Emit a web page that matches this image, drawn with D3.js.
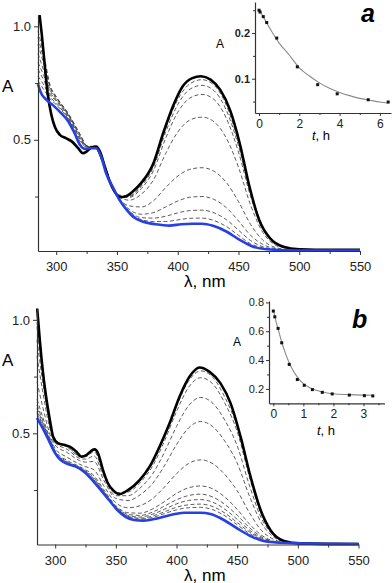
<!DOCTYPE html>
<html>
<head>
<meta charset="utf-8">
<script src="https://cdn.jsdelivr.net/npm/d3@7"></script>
<style>
    body { margin: 0; background: #fff; }
    svg { display: block; font-family: Arial, "Liberation Sans", sans-serif; }
</style>
</head>
<body>
<div id="chart"></div>
<script>
// wavelength grid shared by the dashed (intermediate) spectra
var gridNm = [285, 290, 295, 300, 310, 320, 325, 332, 340, 350, 360, 370, 380, 390,
    400, 410, 420, 430, 440, 450, 460, 470, 480, 490, 500, 550];

// panel a: start (black) and final (blue) spectra
var blackNmA = [285, 286.5, 288, 290, 293, 296, 299, 303, 308, 313, 318, 322, 325, 329, 333, 336,
    340, 344, 348, 352.5, 357, 363, 370, 380, 388, 396, 404, 412, 419, 427, 435, 443, 451, 459,
    467, 476, 487, 500, 525, 550];
var blackAbsA = [1.1, 1.04, 0.97, 0.86, 0.70, 0.61, 0.555, 0.522, 0.507, 0.492, 0.463, 0.441,
    0.448, 0.466, 0.47, 0.448, 0.382, 0.316, 0.272, 0.247, 0.25, 0.272, 0.31, 0.397, 0.529, 0.647,
    0.735, 0.772, 0.78, 0.765, 0.72, 0.632, 0.485, 0.294, 0.147, 0.066, 0.029, 0.018, 0.015, 0.015];
var blueNmA = [285, 287, 292, 297, 304, 310, 315, 319.5, 323.5, 329, 333, 337, 341, 347, 352, 358,
    363, 371, 382, 393, 403, 412, 420, 429, 440, 451, 462, 473, 500, 550];
var blueAbsA = [0.745, 0.712, 0.676, 0.654, 0.618, 0.581, 0.53, 0.478, 0.46, 0.463, 0.463, 0.426,
    0.353, 0.287, 0.235, 0.191, 0.162, 0.14, 0.128, 0.122, 0.128, 0.13, 0.13, 0.121, 0.096, 0.059,
    0.029, 0.018, 0.012, 0.012];

// panel a: intermediate spectra on gridNm
var dashA1 = [0.98, 0.87, 0.74, 0.69, 0.615, 0.52, 0.475, 0.468, 0.385, 0.258, 0.253, 0.301, 0.391, 0.55, 0.677, 0.747, 0.765, 0.74, 0.652, 0.49, 0.274, 0.118, 0.044, 0.024, 0.018, 0.015];
var dashA2 = [0.95, 0.85, 0.735, 0.69, 0.615, 0.52, 0.474, 0.467, 0.384, 0.258, 0.25, 0.295, 0.38, 0.533, 0.655, 0.723, 0.74, 0.716, 0.63, 0.473, 0.265, 0.114, 0.043, 0.023, 0.018, 0.015];
var dashA3 = [0.92, 0.83, 0.73, 0.685, 0.61, 0.515, 0.473, 0.466, 0.382, 0.257, 0.246, 0.285, 0.364, 0.506, 0.621, 0.684, 0.70, 0.677, 0.595, 0.446, 0.25, 0.108, 0.041, 0.023, 0.017, 0.015];
var dashA4 = [0.88, 0.80, 0.72, 0.68, 0.61, 0.51, 0.472, 0.466, 0.38, 0.257, 0.234, 0.26, 0.323, 0.439, 0.534, 0.587, 0.60, 0.579, 0.507, 0.379, 0.212, 0.092, 0.037, 0.021, 0.016, 0.014];
var dashA5 = [0.84, 0.78, 0.71, 0.675, 0.605, 0.505, 0.471, 0.465, 0.377, 0.256, 0.209, 0.204, 0.231, 0.289, 0.34, 0.37, 0.377, 0.361, 0.312, 0.228, 0.127, 0.058, 0.026, 0.017, 0.014, 0.013];
var dashA6 = [0.81, 0.76, 0.70, 0.67, 0.60, 0.50, 0.47, 0.465, 0.375, 0.256, 0.194, 0.172, 0.179, 0.204, 0.23, 0.247, 0.25, 0.237, 0.201, 0.143, 0.079, 0.039, 0.021, 0.015, 0.013, 0.012];
var dashA7 = [0.78, 0.74, 0.69, 0.66, 0.595, 0.495, 0.469, 0.464, 0.373, 0.255, 0.187, 0.157, 0.155, 0.163, 0.178, 0.188, 0.19, 0.178, 0.148, 0.102, 0.056, 0.029, 0.018, 0.014, 0.012, 0.012];
var dashA8 = [0.76, 0.72, 0.68, 0.655, 0.59, 0.49, 0.468, 0.464, 0.372, 0.255, 0.183, 0.148, 0.14, 0.14, 0.147, 0.154, 0.155, 0.144, 0.118, 0.079, 0.042, 0.024, 0.016, 0.013, 0.012, 0.012];

// panel b: start (black) and final (blue) spectra
var blackNmB = [285, 287.3, 290, 292.9, 295.6, 298.3, 302.4, 308, 312, 317.5, 321.6, 325.7, 329.8,
    332.6, 335.3, 339.4, 343.5, 347.6, 353.1, 360, 369.6, 377.8, 386, 394.3, 402.5, 410.8, 419, 427,
    436.3, 444.6, 452.8, 461, 469.3, 477.5, 488.5, 502, 550];
var blackAbsB = [1.06, 0.912, 0.765, 0.647, 0.559, 0.485, 0.456, 0.448, 0.441, 0.419, 0.397, 0.404,
    0.423, 0.429, 0.412, 0.338, 0.279, 0.25, 0.232, 0.25, 0.294, 0.353, 0.441, 0.544, 0.661, 0.75,
    0.79, 0.772, 0.72, 0.632, 0.485, 0.309, 0.162, 0.073, 0.026, 0.015, 0.012];
var blueNmB = [285, 289, 294.6, 300, 304.5, 310, 317, 323.7, 330.6, 337.5, 344.3, 351.2, 358, 365,
    373, 384, 395, 406, 420, 428, 439, 450, 461, 475, 500, 550];
var blueAbsB = [0.568, 0.529, 0.47, 0.412, 0.382, 0.365, 0.353, 0.331, 0.294, 0.25, 0.206, 0.162,
    0.132, 0.118, 0.115, 0.125, 0.14, 0.15, 0.15, 0.144, 0.118, 0.081, 0.047, 0.022, 0.015, 0.012];

// panel b: intermediate spectra on gridNm
var dashB1 = [0.99, 0.759, 0.573, 0.469, 0.443, 0.401, 0.4, 0.426, 0.328, 0.238, 0.247, 0.292, 0.364, 0.482, 0.619, 0.731, 0.775, 0.746, 0.657, 0.529, 0.324, 0.147, 0.057, 0.024, 0.016, 0.012];
var dashB2 = [0.97, 0.748, 0.567, 0.466, 0.439, 0.398, 0.397, 0.419, 0.323, 0.235, 0.241, 0.283, 0.353, 0.465, 0.596, 0.703, 0.745, 0.717, 0.631, 0.508, 0.31, 0.141, 0.055, 0.023, 0.016, 0.012];
var dashB3 = [0.911, 0.715, 0.553, 0.458, 0.429, 0.39, 0.386, 0.4, 0.31, 0.225, 0.225, 0.259, 0.319, 0.416, 0.53, 0.622, 0.658, 0.632, 0.556, 0.445, 0.272, 0.125, 0.05, 0.022, 0.016, 0.012];
var dashB4 = [0.84, 0.675, 0.535, 0.448, 0.415, 0.38, 0.373, 0.376, 0.294, 0.213, 0.204, 0.229, 0.277, 0.357, 0.45, 0.524, 0.552, 0.529, 0.464, 0.369, 0.225, 0.105, 0.043, 0.021, 0.015, 0.012];
var dashB5 = [0.727, 0.61, 0.506, 0.433, 0.394, 0.364, 0.353, 0.339, 0.269, 0.194, 0.172, 0.181, 0.211, 0.263, 0.322, 0.367, 0.383, 0.366, 0.317, 0.247, 0.151, 0.072, 0.033, 0.018, 0.015, 0.012];
var dashB6 = [0.65, 0.567, 0.487, 0.423, 0.38, 0.354, 0.339, 0.313, 0.252, 0.181, 0.15, 0.148, 0.166, 0.199, 0.235, 0.26, 0.268, 0.255, 0.218, 0.165, 0.101, 0.051, 0.025, 0.017, 0.014, 0.012];
var dashB7 = [0.625, 0.553, 0.481, 0.419, 0.375, 0.351, 0.335, 0.305, 0.246, 0.177, 0.143, 0.138, 0.152, 0.179, 0.207, 0.226, 0.232, 0.219, 0.186, 0.139, 0.085, 0.044, 0.023, 0.016, 0.014, 0.012];
var dashB8 = [0.609, 0.544, 0.477, 0.417, 0.372, 0.348, 0.332, 0.3, 0.243, 0.174, 0.138, 0.131, 0.143, 0.165, 0.189, 0.204, 0.208, 0.196, 0.165, 0.121, 0.074, 0.039, 0.022, 0.016, 0.014, 0.012];
var dashB9 = [0.595, 0.536, 0.473, 0.415, 0.37, 0.346, 0.33, 0.295, 0.24, 0.172, 0.134, 0.126, 0.135, 0.154, 0.174, 0.185, 0.188, 0.177, 0.148, 0.107, 0.066, 0.035, 0.02, 0.016, 0.014, 0.012];
var dashB10 = [0.586, 0.531, 0.471, 0.414, 0.368, 0.345, 0.328, 0.292, 0.238, 0.171, 0.132, 0.122, 0.129, 0.146, 0.163, 0.172, 0.174, 0.163, 0.136, 0.097, 0.059, 0.033, 0.019, 0.015, 0.014, 0.012];

// insets: kinetics of A vs time
var timeA = [0, 0.05, 0.21, 0.38, 0.88, 1.9, 2.91, 3.88, 5.42, 6.41];
var kinA = [0.25, 0.246, 0.236, 0.223, 0.189, 0.126, 0.087, 0.067, 0.054, 0.049];
var fitTimeA = [0, 0.5, 1, 1.5, 2, 2.5, 3, 3.5, 4, 4.5, 5, 5.5, 6, 6.4];
var fitKinA = [0.252, 0.213, 0.178, 0.152, 0.124, 0.106, 0.091, 0.079, 0.07, 0.063, 0.057, 0.053, 0.049, 0.047];

var timeB = [0, 0.05, 0.16, 0.28, 0.53, 0.8, 1.03, 1.3, 1.63, 1.96, 2.53, 3.03, 3.31];
var kinB = [0.74, 0.70, 0.62, 0.52, 0.37, 0.265, 0.225, 0.195, 0.176, 0.165, 0.157, 0.153, 0.151];
var fitTimeB = [0, 0.1, 0.2, 0.3, 0.4, 0.5, 0.6, 0.8, 1.0, 1.2, 1.4, 1.6, 1.8, 2.0, 2.5, 3.0, 3.35];
var fitKinB = [0.75, 0.66, 0.585, 0.51, 0.45, 0.395, 0.35, 0.282, 0.237, 0.21, 0.192, 0.18, 0.172, 0.166, 0.16, 0.157, 0.156];

// tick values
var nmTicks = [300, 350, 400, 450, 500, 550];
var nmMinor = [325, 375, 425, 475, 525];
var absTicks = [0.5, 1.0];
var absMinor = [0.25, 0.75];
var insetTicksXA = [0, 2, 4, 6];
var insetMinorXA = [1, 3, 5];
var insetTicksYA = [0.1, 0.2];
var insetMinorYA = [0.05, 0.15, 0.25];
var insetTicksXB = [0, 1, 2, 3];
var insetMinorXB = [0.5, 1.5, 2.5, 3.5];
var insetTicksYB = [0.2, 0.4, 0.6, 0.8];
var insetMinorYB = [0.3, 0.5, 0.7];

var svg = d3.select("#chart").append("svg")
    .attr("width", 392)
    .attr("height", 583);

function styleAxis(g, size) {
    g.selectAll("path.domain").attr("stroke", "#333").attr("stroke-width", 1.2);
    g.selectAll(".tick line").attr("stroke", "#333");
    g.selectAll("text").attr("fill", "#222").style("font-size", size + "px");
}

function drawSpectra(p) {
    var x = d3.scaleLinear().domain([285, 550]).range([p.left, p.right]);
    var y = d3.scaleLinear().domain([0.01, 1.05]).range([p.bottom, p.top]);

    svg.append("clipPath").attr("id", "clip" + p.id)
        .append("rect")
        .attr("x", p.left - 2).attr("y", p.top)
        .attr("width", p.right - p.left + 4).attr("height", p.bottom - p.top + 2);

    var line = d3.line()
        .x(d => x(d[0]))
        .y(d => y(d[1]))
        .curve(d3.curveMonotoneX);

    var curves = svg.append("g").attr("clip-path", "url(#clip" + p.id + ")");

    p.dashed.forEach(function (vals) {
        curves.append("path")
            .datum(d3.zip(gridNm, vals))
            .attr("d", line)
            .attr("fill", "none")
            .attr("stroke", "#4a4a4a")
            .attr("stroke-width", 0.9)
            .attr("stroke-dasharray", "4,2.5");
    });

    curves.append("path")
        .datum(d3.zip(p.blackNm, p.blackAbs))
        .attr("d", line)
        .attr("fill", "none")
        .attr("stroke", "#000")
        .attr("stroke-width", 2.6);

    curves.append("path")
        .datum(d3.zip(p.blueNm, p.blueAbs))
        .attr("d", line)
        .attr("fill", "none")
        .attr("stroke", "#2440e6")
        .attr("stroke-width", 2.6);

    // x axis
    var gx = svg.append("g").attr("transform", "translate(0," + p.bottom + ")");
    gx.call(d3.axisBottom(x).tickValues(nmTicks).tickSize(4).tickSizeOuter(0).tickPadding(7));
    gx.append("g").call(d3.axisBottom(x).tickValues(nmMinor).tickSize(3).tickFormat(""))
        .select("path.domain").remove();
    styleAxis(gx, 13);

    // y axis
    var gy = svg.append("g").attr("transform", "translate(" + p.left + ",0)");
    gy.call(d3.axisLeft(y).tickValues(absTicks).tickFormat(d3.format(".1f"))
        .tickSize(4).tickSizeOuter(0).tickPadding(3));
    gy.append("g").call(d3.axisLeft(y).tickValues(absMinor).tickSize(3).tickFormat(""))
        .select("path.domain").remove();
    styleAxis(gy, 13);

    // axis titles
    svg.append("text")
        .attr("x", 2).attr("y", p.aLabelY)
        .style("font-size", "17px")
        .text("A");

    svg.append("text")
        .attr("x", 184).attr("y", p.bottom + 36)
        .style("font-size", "17px")
        .text("λ, nm");
}

function drawInset(q) {
    var x = d3.scaleLinear().domain(q.xDom).range([q.left, q.right]);
    var y = d3.scaleLinear().domain(q.yDom).range([q.bottom, q.top]);

    var fitLine = d3.line().x(d => x(d[0])).y(d => y(d[1])).curve(d3.curveMonotoneX);

    svg.append("path")
        .datum(d3.zip(q.fitT, q.fitA))
        .attr("d", fitLine)
        .attr("fill", "none")
        .attr("stroke", "#8a8a8a")
        .attr("stroke-width", 1.1);

    svg.append("g").selectAll("rect")
        .data(d3.zip(q.t, q.a))
        .join("rect")
        .attr("x", d => x(d[0]) - 1.5)
        .attr("y", d => y(d[1]) - 1.5)
        .attr("width", 3)
        .attr("height", 3)
        .attr("fill", "#111");

    var gx = svg.append("g").attr("transform", "translate(0," + q.bottom + ")");
    gx.call(d3.axisBottom(x).tickValues(q.ticksX).tickFormat(d3.format("d"))
        .tickSize(3).tickSizeOuter(0).tickPadding(3));
    gx.append("g").call(d3.axisBottom(x).tickValues(q.minorX).tickSize(2).tickFormat(""))
        .select("path.domain").remove();
    styleAxis(gx, 12);

    var gy = svg.append("g").attr("transform", "translate(" + q.left + ",0)");
    gy.call(d3.axisLeft(y).tickValues(q.ticksY).tickFormat(d3.format(".1f"))
        .tickSize(3).tickSizeOuter(0).tickPadding(2));
    gy.append("g").call(d3.axisLeft(y).tickValues(q.minorY).tickSize(2).tickFormat(""))
        .select("path.domain").remove();
    styleAxis(gy, 11);
    gy.selectAll("text").style("font-weight", q.boldY ? "bold" : "normal");

    // labels
    svg.append("text")
        .attr("x", q.aX).attr("y", q.aY)
        .style("font-size", "12px")
        .text("A");

    var th = svg.append("text")
        .attr("x", q.thX).attr("y", q.thY)
        .attr("text-anchor", "middle")
        .style("font-size", "13px");
    th.append("tspan").style("font-style", "italic").text("t");
    th.append("tspan").text(", h");

    svg.append("text")
        .attr("x", q.tagX).attr("y", q.tagY)
        .style("font-size", "25px")
        .style("font-weight", "bold")
        .style("font-style", "italic")
        .text(q.tag);
}

drawSpectra({
    id: "a", left: 38, right: 360, top: 15, bottom: 251, aLabelY: 92,
    blackNm: blackNmA, blackAbs: blackAbsA, blueNm: blueNmA, blueAbs: blueAbsA,
    dashed: [dashA1, dashA2, dashA3, dashA4, dashA5, dashA6, dashA7, dashA8]
});

drawSpectra({
    id: "b", left: 37, right: 358.5, top: 308.5, bottom: 544.5, aLabelY: 366,
    blackNm: blackNmB, blackAbs: blackAbsB, blueNm: blueNmB, blueAbs: blueAbsB,
    dashed: [dashB1, dashB2, dashB3, dashB4, dashB5, dashB6, dashB7, dashB8, dashB9, dashB10]
});

drawInset({
    left: 255, right: 391, top: 2, bottom: 113,
    xDom: [-0.2, 6.55], yDom: [0.025, 0.268],
    t: timeA, a: kinA, fitT: fitTimeA, fitA: fitKinA,
    ticksX: insetTicksXA, minorX: insetMinorXA, ticksY: insetTicksYA, minorY: insetMinorYA,
    boldY: true, aX: 216, aY: 48, thX: 321, thY: 140, tag: "a", tagX: 361, tagY: 22
});

drawInset({
    left: 269, right: 384.5, top: 301, bottom: 403.3,
    xDom: [-0.143, 3.7], yDom: [0.1, 0.81],
    t: timeB, a: kinB, fitT: fitTimeB, fitA: fitKinB,
    ticksX: insetTicksXB, minorX: insetMinorXB, ticksY: insetTicksYB, minorY: insetMinorYB,
    boldY: false, aX: 233, aY: 346, thX: 326, thY: 435, tag: "b", tagX: 352, tagY: 328
});
</script>
</body>
</html>
